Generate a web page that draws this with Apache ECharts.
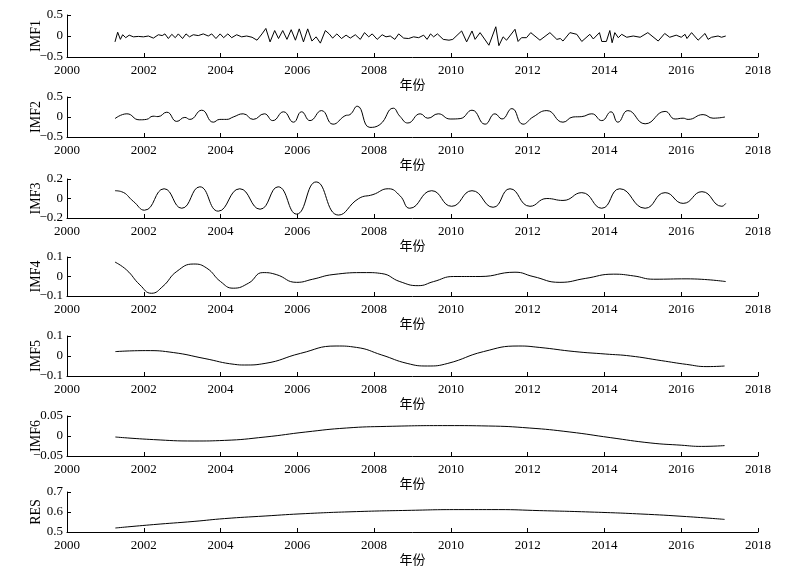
<!DOCTYPE html>
<html>
<head>
<meta charset="utf-8">
<script src="https://cdn.jsdelivr.net/npm/echarts@6/dist/echarts.min.js"></script>
<style>
html,body{margin:0;padding:0;background:#fff;}
#chart{width:799px;height:572px;}
</style>
</head>
<body>
<div id="chart"></div>
<script>
// ---- Data ----
const panelNames = ['IMF1', 'IMF2', 'IMF3', 'IMF4', 'IMF5', 'IMF6', 'RES'];
const xAxisName = '年份';
const xMin = 2000, xMax = 2018, xStep = 2;
const yMins  = [-0.5, -0.5, -0.2, -0.1, -0.1, -0.05, 0.5];
const yMaxs  = [ 0.5,  0.5,  0.2,  0.1,  0.1,  0.05, 0.7];
const ySteps = [ 0.5,  0.5,  0.2,  0.1,  0.1,  0.05, 0.1];

const imf1Years = [2001.25,2001.32,2001.39,2001.45,2001.53,2001.62,2001.73,2001.86,2001.99,2002.12,2002.25,2002.38,2002.48,2002.55,2002.64,2002.73,2002.82,2002.90,2003.01,2003.10,2003.19,2003.29,2003.42,2003.55,2003.68,2003.77,2003.88,2003.99,2004.08,2004.19,2004.29,2004.42,2004.55,2004.68,2004.82,2004.95,2005.08,2005.18,2005.29,2005.41,2005.51,2005.62,2005.73,2005.84,2005.95,2006.05,2006.16,2006.27,2006.38,2006.49,2006.60,2006.73,2006.83,2006.92,2007.03,2007.15,2007.27,2007.38,2007.51,2007.64,2007.75,2007.86,2007.95,2008.08,2008.21,2008.31,2008.42,2008.54,2008.64,2008.77,2008.90,2009.03,2009.16,2009.29,2009.38,2009.47,2009.55,2009.65,2009.80,2009.95,2010.05,2010.28,2010.41,2010.55,2010.63,2010.76,2010.99,2011.17,2011.25,2011.36,2011.45,2011.67,2011.75,2011.84,2011.97,2012.08,2012.32,2012.58,2012.76,2012.85,2012.92,2013.10,2013.28,2013.41,2013.62,2013.71,2013.87,2013.93,2014.05,2014.14,2014.20,2014.27,2014.36,2014.45,2014.58,2014.75,2014.93,2015.13,2015.40,2015.57,2015.70,2015.87,2016.00,2016.10,2016.15,2016.27,2016.44,2016.62,2016.70,2016.79,2016.96,2017.05,2017.16];
const imf1Values = [-0.14,0.09,-0.08,0.03,-0.04,0.02,-0.02,-0.01,-0.02,0.0,-0.05,0.03,0.01,0.05,-0.06,0.04,-0.04,0.05,-0.06,0.05,-0.02,0.03,0.01,0.05,0.0,0.05,-0.06,0.05,-0.04,0.05,-0.04,0.03,-0.02,0.0,-0.03,-0.10,0.05,0.18,-0.14,0.13,-0.06,0.13,-0.08,0.15,-0.10,0.17,-0.14,0.17,-0.12,-0.02,-0.17,0.13,0.05,-0.05,0.05,-0.06,0.02,-0.05,0.03,-0.08,0.08,-0.02,0.05,-0.08,0.03,-0.02,0.0,-0.08,0.05,-0.05,-0.06,-0.02,-0.04,0.02,-0.08,0.05,-0.02,0.05,-0.08,-0.10,-0.08,0.12,-0.14,0.12,-0.08,0.08,-0.22,0.22,-0.23,-0.02,-0.10,0.16,-0.13,-0.04,-0.04,0.08,-0.10,0.08,-0.08,-0.06,-0.12,0.08,0.04,-0.13,0.04,-0.07,0.08,-0.13,-0.13,0.13,-0.16,0.08,-0.04,0.04,-0.03,0.0,-0.03,0.08,-0.12,0.06,-0.03,0.02,-0.03,0.04,-0.06,0.08,-0.10,0.06,-0.08,-0.03,0.0,-0.03,0.0];

const imf2Years = [2001.25,2001.56,2001.88,2002.07,2002.24,2002.37,2002.60,2002.86,2003.07,2003.20,2003.51,2003.81,2003.98,2004.16,2004.33,2004.59,2004.85,2005.14,2005.36,2005.64,2005.90,2006.11,2006.33,2006.63,2006.93,2007.24,2007.37,2007.56,2007.89,2008.15,2008.50,2008.67,2008.88,2009.20,2009.40,2009.67,2009.98,2010.24,2010.55,2010.89,2011.15,2011.33,2011.59,2011.88,2012.14,2012.50,2012.92,2013.18,2013.41,2013.67,2013.93,2014.17,2014.35,2014.61,2015.06,2015.58,2015.84,2016.05,2016.18,2016.57,2016.83,2017.14];
const imf2Values = [-0.04,0.08,-0.07,-0.06,0.02,0.01,0.12,-0.11,-0.01,-0.06,0.17,-0.13,-0.06,-0.06,0.0,0.08,-0.06,0.08,-0.09,0.13,-0.13,0.13,-0.09,0.16,-0.18,0.03,0.06,0.27,-0.26,-0.19,0.22,0.02,-0.15,0.08,-0.03,0.08,-0.05,-0.04,0.17,-0.18,0.08,-0.05,0.21,-0.18,0.0,0.16,-0.13,0.0,0.01,0.08,-0.09,0.13,-0.13,0.16,-0.17,0.14,-0.05,-0.03,-0.06,0.06,-0.03,0.0];

const imf3Years = [2001.25,2001.42,2001.73,2002.02,2002.53,2002.99,2003.46,2003.94,2004.50,2005.03,2005.50,2005.98,2006.49,2007.07,2007.60,2007.97,2008.37,2008.67,2008.93,2009.50,2010.02,2010.55,2011.10,2011.54,2012.06,2012.50,2012.92,2013.41,2013.93,2014.40,2015.06,2015.58,2016.05,2016.54,2017.06,2017.16];
const imf3Values = [0.08,0.07,-0.03,-0.12,0.10,-0.10,0.12,-0.13,0.10,-0.11,0.12,-0.16,0.17,-0.17,0.0,0.04,0.10,0.03,-0.10,0.08,-0.08,0.08,-0.09,0.10,-0.08,0.0,-0.02,0.06,-0.10,0.10,-0.10,0.06,-0.05,0.07,-0.08,-0.05];

const imf4Years = [2001.25,2001.55,2001.90,2002.20,2002.50,2002.86,2003.30,2003.64,2004.00,2004.33,2004.73,2005.10,2005.45,2005.98,2006.40,2006.93,2007.80,2008.20,2008.67,2009.15,2009.55,2010.07,2010.76,2011.67,2012.14,2012.84,2013.50,2014.24,2014.76,2015.28,2016.15,2017.16];
const imf4Values = [0.074,0.034,-0.043,-0.086,-0.05,0.026,0.064,0.043,-0.026,-0.06,-0.034,0.02,0.01,-0.03,-0.014,0.01,0.02,0.015,-0.026,-0.047,-0.026,0.0,0.0,0.022,0.0,-0.03,-0.01,0.012,0.003,-0.014,-0.012,-0.026];

const imf5Years = [2001.26,2002.05,2002.78,2003.57,2004.37,2004.63,2005.16,2006.08,2007.01,2007.54,2008.20,2008.86,2009.39,2009.92,2010.85,2011.77,2012.30,2013.23,2014.02,2014.68,2015.48,2016.14,2016.67,2017.13];
const imf5Values = [0.022,0.027,0.017,-0.012,-0.042,-0.045,-0.037,0.013,0.050,0.043,0.005,-0.037,-0.050,-0.037,0.022,0.050,0.043,0.022,0.010,0.0,-0.023,-0.042,-0.053,-0.050];

const imf6Years = [2001.26,2002.25,2003.31,2004.10,2005.16,2006.22,2007.28,2008.33,2009.92,2010.98,2012.04,2013.10,2014.15,2015.21,2016.00,2016.53,2017.13];
const imf6Values = [-0.0025,-0.009,-0.0125,-0.011,-0.0025,0.010,0.020,0.024,0.026,0.025,0.020,0.010,-0.004,-0.0175,-0.023,-0.026,-0.024];

const resYears = [2001.26,2002.25,2003.31,2004.10,2005.16,2006.22,2007.54,2008.86,2010.19,2011.24,2012.30,2013.62,2014.95,2016.14,2017.13];
const resValues = [0.520,0.537,0.553,0.567,0.580,0.592,0.602,0.608,0.612,0.612,0.607,0.600,0.590,0.577,0.563];

const seriesYears  = [imf1Years, imf2Years, imf3Years, imf4Years, imf5Years, imf6Years, resYears];
const seriesValues = [imf1Values, imf2Values, imf3Values, imf4Values, imf5Values, imf6Values, resValues];
const seriesSmooth = [false, true, true, true, true, true, true];

// ---- Layout ----
const gridTops    = [15, 97, 179, 257, 336, 416, 492];
const gridHeights = [42, 40, 39, 39, 40, 40, 40];

const serif = '"Liberation Serif", "Times New Roman", serif';
const cjk = '"Noto Sans CJK SC", sans-serif';

function fmtY(v) {
  const r = parseFloat(Number(v).toFixed(4));
  if (r === 0) return '0';
  return (r < 0 ? '\u2212' : '') + String(Math.abs(r));
}
function fmtX(v) {
  return String(Math.round(v));
}

const grids = [], xAxes = [], yAxes = [], series = [];
for (let i = 0; i < panelNames.length; i++) {
  grids.push({ left: 67, right: 41, top: gridTops[i], height: gridHeights[i], containLabel: false });
  xAxes.push({
    type: 'value', gridIndex: i, min: xMin, max: xMax, interval: xStep,
    name: xAxisName, nameLocation: 'middle', nameGap: 21, nameMoveOverlap: false,
    nameTextStyle: { fontFamily: cjk, fontSize: 13, color: '#000' },
    axisLine: { show: true, onZero: false, lineStyle: { color: '#000', width: 1 } },
    axisTick: { show: true, inside: true, length: 4, lineStyle: { color: '#000' } },
    axisLabel: { fontFamily: serif, fontSize: 13, color: '#000', margin: 7, formatter: fmtX },
    splitLine: { show: false }
  });
  yAxes.push({
    type: 'value', gridIndex: i, min: yMins[i], max: yMaxs[i], interval: ySteps[i],
    name: panelNames[i], nameLocation: 'middle', nameGap: 24, nameRotate: 90, nameMoveOverlap: false,
    nameTextStyle: { fontFamily: serif, fontSize: 14, color: '#000' },
    axisLine: { show: true, onZero: false, lineStyle: { color: '#000', width: 1 } },
    axisTick: { show: true, inside: true, length: 4, lineStyle: { color: '#000' } },
    axisLabel: { fontFamily: serif, fontSize: 13, color: '#000', margin: 4, formatter: fmtY },
    splitLine: { show: false }
  });
  const data = seriesYears[i].map((y, k) => [y, seriesValues[i][k]]);
  series.push({
    type: 'line', xAxisIndex: i, yAxisIndex: i, data: data,
    smooth: seriesSmooth[i], showSymbol: false, symbol: 'none',
    lineStyle: { color: '#000', width: 1 }, animation: false
  });
}

const chart = echarts.init(document.getElementById('chart'), null, { renderer: 'canvas' });
chart.setOption({
  backgroundColor: '#fff',
  animation: false,
  grid: grids, xAxis: xAxes, yAxis: yAxes, series: series
});
</script>
</body>
</html>
